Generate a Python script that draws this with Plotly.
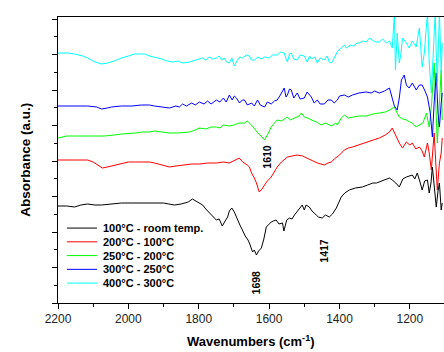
import plotly.graph_objects as go

# ---------------- data (absorbance in arbitrary units) ----------------
names = ["100°C - room temp.", "200°C - 100°C", "250°C - 200°C",
         "300°C - 250°C", "400°C - 300°C"]
colors = ["#000000", "#FF0000", "#00FF00", "#0000FF", "#00FFFF"]

black_wn = [2200, 2175, 2153, 2135, 2116, 2095, 2076, 2050, 2020, 1990, 1960, 1940, 1926, 1900,
            1885, 1869, 1850, 1830, 1818, 1805, 1789, 1780, 1770, 1760, 1750, 1742, 1733, 1725,
            1718, 1713, 1706, 1699, 1690, 1683, 1676, 1668, 1660, 1656, 1647, 1642, 1636, 1630,
            1622, 1615, 1608, 1600, 1594, 1588, 1580, 1572, 1562, 1558, 1550, 1542, 1535, 1528,
            1522, 1515, 1506, 1500, 1495, 1486, 1478, 1466, 1460, 1449, 1440, 1429, 1420, 1409,
            1402, 1395, 1385, 1372, 1355, 1335, 1320, 1305, 1295, 1280, 1267, 1258, 1250, 1240,
            1230, 1220, 1210, 1200, 1193, 1186, 1179, 1172, 1165, 1158, 1150, 1145, 1140, 1136,
            1130, 1125, 1120, 1116, 1111, 1108]
black_ab = [97, 97, 96, 98, 99, 98, 98, 99, 100, 100, 100, 100, 100, 100,
            99, 98, 99, 101, 104, 101, 98, 94, 90, 86, 83, 84, 77, 82,
            86, 92, 95, 91, 83, 78, 73, 67, 63, 60, 51, 53, 48, 52,
            55, 64, 76, 79, 81, 82, 83, 79, 80, 72, 83, 85, 84, 88,
            91, 94, 98, 93, 98, 96, 92, 88, 86, 85, 88, 86, 89, 95,
            100, 106, 110, 113, 115, 116, 118, 120, 120, 122, 124, 125, 123, 120,
            116, 124, 126, 127, 128, 124, 130, 122, 113, 122, 123, 110, 120, 136,
            110, 96, 112, 120, 93, 100]

red_wn = [2200, 2150, 2116, 2100, 2088, 2074, 2060, 2048, 2020, 2000, 1983, 1960, 1940, 1926,
          1905, 1883, 1865, 1846, 1820, 1798, 1775, 1750, 1730, 1713, 1700, 1685, 1675, 1670,
          1662, 1656, 1650, 1642, 1636, 1628, 1620, 1613, 1605, 1594, 1585, 1577, 1565, 1548,
          1535, 1520, 1505, 1491, 1475, 1463, 1450, 1443, 1433, 1423, 1415, 1406, 1400, 1386,
          1375, 1363, 1345, 1324, 1305, 1287, 1270, 1258, 1250, 1244, 1238, 1230, 1221, 1210,
          1200, 1193, 1183, 1173, 1165, 1159, 1150, 1145, 1139, 1131, 1122, 1116, 1111, 1108]
red_ab = [143, 143, 143, 141, 138, 135, 136, 137, 140, 141, 141, 141, 141, 140,
          138, 136, 137, 138, 139, 139, 140, 140, 141, 140, 142, 145, 141, 140,
          138, 136, 130, 125, 120, 111, 114, 118, 122, 126, 131, 136, 141, 146,
          147, 148, 147, 145, 142, 140, 139, 138, 140, 141, 144, 146, 148, 153,
          155, 156, 158, 161, 163, 165, 168, 171, 175, 170, 166, 160, 155, 161,
          158, 160, 154, 156, 152, 146, 160, 150, 133, 170, 113, 140, 150, 165]

green_wn = [2200, 2175, 2153, 2110, 2068, 2040, 2020, 1980, 1960, 1940, 1926, 1905, 1883, 1860,
            1840, 1826, 1810, 1798, 1780, 1765, 1750, 1740, 1730, 1713, 1700, 1685, 1670, 1662,
            1650, 1642, 1632, 1620, 1613, 1605, 1594, 1585, 1577, 1565, 1548, 1540, 1528, 1515,
            1508, 1500, 1490, 1480, 1465, 1452, 1440, 1423, 1410, 1406, 1395, 1386, 1375, 1363,
            1345, 1324, 1305, 1287, 1270, 1258, 1244, 1236, 1230, 1220, 1210, 1200, 1193, 1183,
            1173, 1163, 1153, 1145, 1138, 1131, 1122, 1116, 1111, 1108]
green_ab = [165, 167, 167, 167, 167, 168, 169, 170, 171, 171, 172, 171, 170, 170,
            171, 171, 173, 175, 174, 176, 176, 175, 178, 177, 178, 180, 180, 182,
            178, 174, 170, 166, 163, 168, 176, 180, 183, 182, 186, 183, 185, 187,
            190, 186, 185, 183, 181, 178, 180, 177, 180, 178, 185, 188, 185, 186,
            187, 187, 189, 190, 191, 193, 196, 190, 186, 184, 183, 181, 180, 176,
            178, 180, 190, 176, 200, 240, 160, 200, 233, 183]

blue_wn = [2200, 2150, 2116, 2090, 2076, 2060, 2048, 2020, 1990, 1963, 1940, 1926, 1905, 1883,
           1865, 1855, 1846, 1835, 1820, 1810, 1798, 1785, 1775, 1765, 1750, 1740, 1730, 1722,
           1713, 1705, 1699, 1693, 1684, 1676, 1670, 1662, 1656, 1650, 1642, 1633, 1625, 1613,
           1605, 1594, 1585, 1577, 1568, 1557, 1552, 1548, 1542, 1537, 1530, 1520, 1512, 1500,
           1492, 1480, 1472, 1463, 1455, 1443, 1433, 1423, 1415, 1406, 1400, 1386, 1375, 1363,
           1345, 1324, 1310, 1300, 1287, 1272, 1258, 1250, 1244, 1236, 1230, 1224, 1216, 1210,
           1202, 1193, 1182, 1173, 1165, 1157, 1150, 1142, 1136, 1131, 1125, 1120, 1116, 1111,
           1108]
blue_ab = [197, 197, 197, 196, 194, 195, 196, 197, 197, 198, 198, 197, 196, 195,
           197, 196, 199, 197, 200, 198, 201, 199, 202, 199, 203, 201, 205, 201,
           208, 203, 207, 205, 200, 203, 203, 198, 199, 200, 197, 203, 198, 196,
           201, 199, 202, 203, 208, 215, 206, 208, 214, 213, 205, 210, 204, 205,
           211, 206, 200, 203, 199, 199, 203, 203, 200, 203, 207, 208, 206, 208,
           210, 211, 210, 212, 210, 212, 215, 203, 197, 193, 205, 223, 228, 218,
           215, 220, 213, 218, 218, 212, 206, 190, 166, 200, 230, 190, 176, 200,
           210]

cyan_wn = [2200, 2170, 2153, 2130, 2116, 2095, 2076, 2059, 2040, 2020, 2000, 1983, 1965, 1954,
           1940, 1926, 1905, 1890, 1875, 1860, 1845, 1826, 1810, 1798, 1789, 1780, 1770, 1760,
           1750, 1742, 1735, 1728, 1721, 1713, 1706, 1699, 1690, 1683, 1676, 1665, 1656, 1650,
           1642, 1632, 1622, 1613, 1600, 1590, 1577, 1567, 1557, 1552, 1548, 1542, 1537, 1530,
           1520, 1512, 1500, 1492, 1485, 1480, 1470, 1463, 1455, 1443, 1435, 1429, 1423, 1415,
           1405, 1395, 1386, 1380, 1370, 1360, 1350, 1343, 1335, 1324, 1315, 1307, 1297, 1287,
           1277, 1267, 1258, 1250, 1244, 1241, 1236, 1230, 1225, 1221, 1210, 1202, 1193, 1182,
           1173, 1165, 1159, 1150, 1145, 1139, 1133, 1128, 1125, 1122, 1116, 1111, 1108]
cyan_ab = [250, 250, 249, 247, 245, 241, 239, 240, 242, 245, 247, 249, 249, 249,
           247, 246, 244, 242, 241, 242, 240, 241, 243, 244, 245, 243, 246, 244,
           245, 247, 243, 245, 241, 240, 245, 237, 243, 246, 245, 248, 247, 243,
           243, 246, 244, 246, 245, 248, 248, 251, 250, 244, 241, 249, 250, 244,
           243, 248, 247, 241, 247, 244, 246, 240, 245, 243, 247, 241, 240, 245,
           252, 255, 258, 255, 258, 257, 260, 260, 262, 261, 265, 263, 261, 261,
           264, 260, 262, 255, 290, 233, 270, 240, 250, 265, 260, 255, 262, 256,
           275, 236, 250, 290, 240, 210, 260, 290, 250, 220, 290, 230, 260]

series_wn = [black_wn, red_wn, green_wn, blue_wn, cyan_wn]
series_ab = [black_ab, red_ab, green_ab, blue_ab, cyan_ab]

peak_labels = ["1610", "1698", "1417"]
peak_x = [1607, 1636, 1445]
peak_y = [146, 21, 52]

x_tick_vals = [2200, 2000, 1800, 1600, 1400, 1200]

# ---------------- figure ----------------
FONT = "Liberation Sans, Arial, sans-serif"
fig = go.Figure()
for name, col, wn, ab in zip(names, colors, series_wn, series_ab):
    fig.add_trace(go.Scatter(x=wn, y=ab, mode="lines", name=name,
                             line=dict(color=col, width=1), showlegend=False))

# legend drawn as annotations + key lines (paper coordinates)
for i, (name, col) in enumerate(zip(names, colors)):
    yy = 0.262 - i * 0.0481
    fig.add_shape(type="line", xref="paper", yref="paper",
                  x0=0.023, x1=0.101, y0=yy, y1=yy, line=dict(color=col, width=1))
    fig.add_annotation(xref="paper", yref="paper", x=0.111, y=yy, text="<b>%s</b>" % name,
                       showarrow=False, xanchor="left", yanchor="middle",
                       font=dict(family=FONT, size=11, color="#000"))

for lab, px, py in zip(peak_labels, peak_x, peak_y):
    fig.add_annotation(x=px, y=py, text="<b>%s</b>" % lab, showarrow=False,
                       textangle=-90, font=dict(family=FONT, size=10.5, color="#000"),
                       xanchor="center", yanchor="middle")

fig.add_annotation(xref="paper", yref="paper", x=-0.111, y=0.5,
                   text="<b>Absorbance (a.u.)</b>", textangle=-90, showarrow=False,
                   font=dict(family=FONT, size=13.5, color="#000"))
fig.add_annotation(xref="paper", yref="paper", x=0.5, y=-0.132,
                   text="<b>Wavenumbers (cm<sup>-1</sup>)</b>", showarrow=False,
                   yanchor="middle", font=dict(family=FONT, size=13, color="#000"))

fig.update_layout(
    width=444, height=352,
    margin=dict(l=58, r=0, t=17, b=49),
    paper_bgcolor="white", plot_bgcolor="white",
    xaxis=dict(range=[2200, 1103], tickvals=x_tick_vals,
               ticks="outside", ticklen=5, tickcolor="#000", tickwidth=1,
               minor=dict(dtick=100, ticks="outside", ticklen=3, tickcolor="#000"),
               showline=True, linecolor="#000", linewidth=1, mirror=True,
               showgrid=False, zeroline=False,
               tickfont=dict(family=FONT, size=12, color="#222")),
    yaxis=dict(range=[0, 286], tick0=0, dtick=35.5, showticklabels=False,
               ticks="outside", ticklen=5, tickcolor="#000", tickwidth=1,
               minor=dict(dtick=17.75, ticks="outside", ticklen=3, tickcolor="#000"),
               showline=True, linecolor="#000", linewidth=1,
               showgrid=False, zeroline=False),
)

fig.write_html("out.html")
